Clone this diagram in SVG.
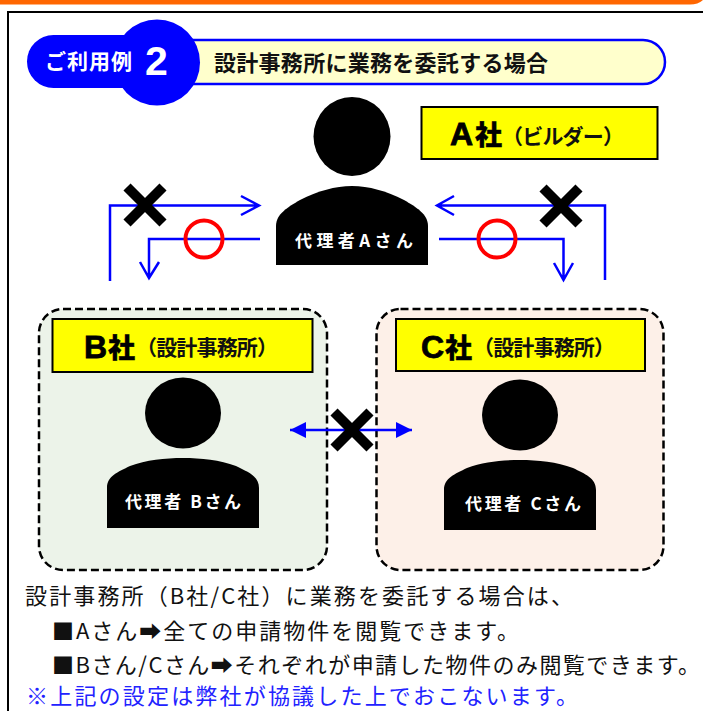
<svg xmlns="http://www.w3.org/2000/svg" width="703" height="711" viewBox="0 0 703 711">
<style>
text{font-family:"Noto Sans CJK JP","Liberation Sans",sans-serif}
.lbl{fill:#ff0;stroke:#000;stroke-width:2}
.co{font-family:"Liberation Sans","Noto Sans CJK JP",sans-serif;font-weight:700;font-size:32px;stroke:#000;stroke-width:.8}
.sha{font-weight:900;font-size:27px;stroke:#000;stroke-width:.4}
.sub{font-weight:700;font-size:21px;fill:#111}
.who{font-weight:700;font-size:17px;fill:#fff}
.body{font-size:22px;fill:#111}
.ln{fill:none;stroke:#00f;stroke-width:2.500}
.cross{stroke:#000;stroke-width:10;fill:none}
.ok{fill:none;stroke:#f00;stroke-width:4}
.box{stroke:#000;stroke-width:2.500;stroke-dasharray:8 4}
</style>
<defs>
<marker id="tri" viewBox="0 0 16 16" refX="16" refY="8" markerUnits="userSpaceOnUse" markerWidth="16" markerHeight="16" orient="auto-start-reverse"><path d="M0 0L16 8L0 16z" fill="#00f"/></marker>
</defs>
<path d="M0 0H703Q698 4.500 690 4.500H0z" fill="#f60"/>
<path d="M704 12H8V711" fill="none" stroke="#000" stroke-width="2"/>
<g id="header">
<rect x="150" y="40" width="515" height="44" rx="22" fill="#ffc" stroke="#00f" stroke-width="2.500"/>
<rect x="27" y="35" width="130" height="53" rx="26.500" fill="#00f"/>
<circle cx="157" cy="62.500" r="43" fill="#00f"/>
<text x="45" y="69" font-size="21" font-weight="700" fill="#fff" textLength="87">ご利用例</text>
<text x="145" y="75" style="font-family:'Liberation Sans',sans-serif" font-size="41" font-weight="700" fill="#fff">2</text>
<text x="214" y="71" font-size="22" font-weight="700" fill="#111" textLength="334">設計事務所に業務を委託する場合</text>
</g>
<g id="nodeB">
<rect class="box" x="39" y="309" width="288" height="261" rx="24" fill="#ecf3e9"/>
<rect class="lbl" x="52.500" y="319" width="260" height="53"/>
<text class="co" x="84" y="358">B</text><text class="sha" x="108" y="358">社</text>
<text class="sub" x="136" y="355" textLength="142">（設計事務所）</text>
<ellipse cx="183" cy="413" rx="38" ry="35.500"/>
<path d="M107 528V488C107 476 118 472 130 466C146 460 165 458 183 458C201 458 220 460 236 466C248 472 259 476 259 488V528z"/>
<text class="who" x="125" y="508" textLength="116" xml:space="preserve">代理者 Bさん</text>
</g>
<g id="nodeC">
<rect class="box" x="376.500" y="309" width="287" height="261" rx="24" fill="#fdf0e8"/>
<rect class="lbl" x="396" y="319" width="249" height="52"/>
<text class="co" x="421" y="358">C</text><text class="sha" x="445" y="358">社</text>
<text class="sub" x="473" y="355" textLength="142">（設計事務所）</text>
<ellipse cx="520" cy="415" rx="38" ry="35.500"/>
<path d="M444 530V490C444 478 455 474 467 468C483 462 502 460 520 460C538 460 557 462 573 468C585 474 596 478 596 490V530z"/>
<text class="who" x="465" y="510" textLength="116" xml:space="preserve">代理者 Cさん</text>
</g>
<g id="nodeA">
<ellipse cx="352" cy="136.500" rx="38.500" ry="39.500"/>
<path d="M276 265V226C276 214 288 207 300 200C318 191 335 186 352 186C369 186 386 191 404 200C416 207 428 214 428 226V265z"/>
<text class="who" x="295" y="247" textLength="118">代理者Aさん</text>
<rect class="lbl" x="421.500" y="107" width="236" height="52"/>
<text class="co" x="450" y="145">A</text><text class="sha" x="475" y="145">社</text>
<text class="sub" x="502" y="144" textLength="122">（ビルダー）</text>
</g>
<g id="connectors">
<path class="ln" d="M110 281V205.500H258M241 196L259 205.500L241 215"/>
<path class="ln" d="M260 239H149V278M140 262L149 278L159 262"/>
<path class="ln" d="M605 280V205.500H437M454 196L437 205.500L454 215"/>
<path class="ln" d="M439 239H563.500V279M554 263L563.500 280L573 263"/>
<path class="ln" d="M290 430H412" marker-start="url(#tri)" marker-end="url(#tri)"/>
<circle class="ok" cx="204" cy="239" r="18.500"/>
<circle class="ok" cx="497" cy="239" r="18.500"/>
<path class="cross" d="M127 187L163 223M163 187L127 223"/>
<path class="cross" d="M543 188L579 224M579 188L543 224"/>
<path class="cross" d="M334 412L370 448M370 412L334 448"/>
</g>
<g id="notes">
<text class="body" x="25" y="604" textLength="548">設計事務所（B社/C社）に業務を委託する場合は、</text>
<text class="body" x="52" y="639" textLength="467">■Aさん➡全ての申請物件を閲覧できます。</text>
<text class="body" x="52" y="673" textLength="648">■Bさん/Cさん➡それぞれが申請した物件のみ閲覧できます。</text>
<text class="body" x="26" y="704" textLength="552" style="fill:#2222ff">※上記の設定は弊社が協議した上でおこないます。</text>
</g>
</svg>
